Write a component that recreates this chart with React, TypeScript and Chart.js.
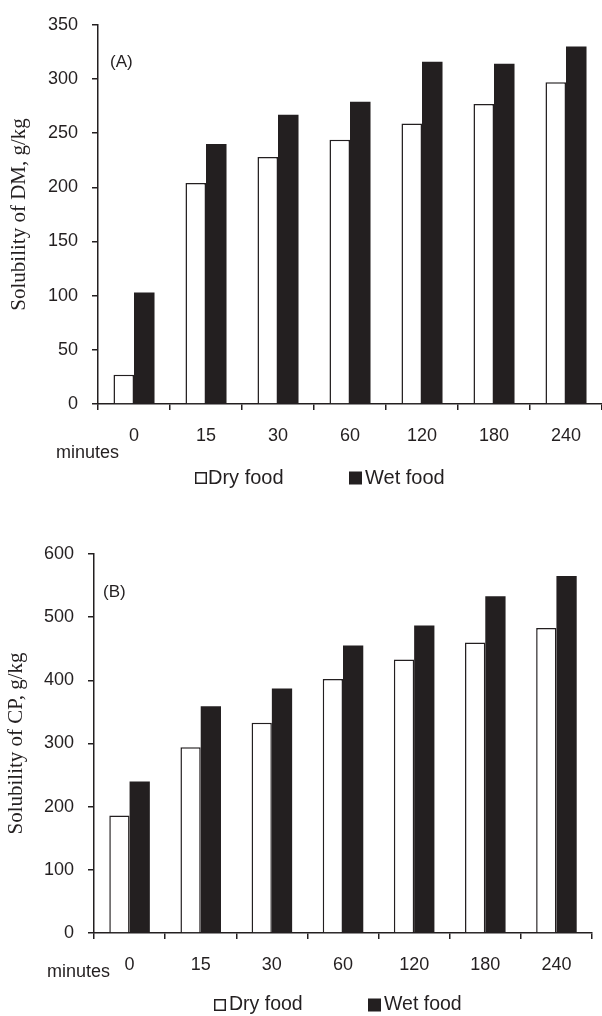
import React, { useEffect, useRef } from "react";
import { Chart, registerables } from "chart.js";

Chart.register(...registerables);

// ---- Data ----
const minuteLabels = ["0", "15", "30", "60", "120", "180", "240"];
const seriesNames = ["Dry food", "Wet food"];

const dmDry = [27, 204, 228, 244, 259, 277, 297];
const dmWet = [103, 240, 267, 279, 316, 314, 330];

const cpDry = [186, 294, 333, 402, 433, 460, 483];
const cpWet = [240, 359, 387, 455, 487, 533, 565];

const dmAxis = { max: 350, step: 50 };
const cpAxis = { max: 600, step: 100 };

const INK = "#231f20";
const SANS = '"Liberation Sans", Arial, sans-serif';
const SERIF = '"Liberation Serif", "Times New Roman", serif';

const extrasPlugin = {
  id: "extras",
  afterDraw(chart: any, _args: any, opts: any) {
    const ctx = chart.ctx;
    ctx.save();
    ctx.fillStyle = INK;
    ctx.textAlign = "left";
    ctx.textBaseline = "middle";
    ctx.font = `17px ${SANS}`;
    ctx.fillText(opts.panel, opts.panelX, opts.panelY);
    ctx.font = `18px ${SANS}`;
    ctx.fillText("minutes", opts.minutesX, opts.minutesY);
    ctx.font = `${opts.legendFont}px ${SANS}`;
    const ds = chart.data.datasets;
    opts.legend.forEach((item: any, i: number) => {
      const d = ds[i];
      const s = item.size;
      const y0 = opts.legendY - s / 2;
      if (i === 0) {
        ctx.fillStyle = "#ffffff";
        ctx.fillRect(item.boxX, y0, s, s);
        ctx.strokeStyle = INK;
        ctx.lineWidth = 1.5;
        ctx.strokeRect(item.boxX + 0.75, y0 + 0.75, s - 1.5, s - 1.5);
      } else {
        ctx.fillStyle = d.backgroundColor;
        ctx.fillRect(item.boxX, y0, s, s);
      }
      ctx.fillStyle = INK;
      ctx.fillText(d.label, item.textX, opts.legendY);
    });
    ctx.restore();
  },
};

function makeConfig(p: any): any {
  return {
    type: "bar",
    data: {
      labels: minuteLabels,
      datasets: [
        {
          label: seriesNames[0],
          data: p.dry,
          backgroundColor: "#ffffff",
          borderColor: INK,
          borderWidth: 1.5,
          categoryPercentage: 0.57,
          barPercentage: 1,
        },
        {
          label: seriesNames[1],
          data: p.wet,
          backgroundColor: INK,
          borderColor: INK,
          borderWidth: 0,
          categoryPercentage: 0.57,
          barPercentage: 1,
        },
      ],
    },
    options: {
      responsive: false,
      animation: false,
      events: [],
      layout: { padding: { top: p.padTop, right: p.padRight, left: 0, bottom: 0 } },
      plugins: {
        legend: { display: false },
        tooltip: { enabled: false },
        extras: p.extras,
      },
      scales: {
        x: {
          type: "category",
          offset: true,
          grid: {
            display: true,
            offset: true,
            drawOnChartArea: false,
            drawTicks: true,
            tickLength: 6,
            color: INK,
            lineWidth: 1.5,
          },
          border: { display: true, color: INK, width: 1.5 },
          ticks: {
            color: INK,
            font: { family: SANS, size: 18 },
            padding: 15,
            maxRotation: 0,
            autoSkip: false,
          },
          afterFit: (s: any) => {
            s.height = p.xHeight;
          },
        },
        y: {
          min: 0,
          max: p.max,
          ticks: {
            stepSize: p.step,
            color: INK,
            font: { family: SANS, size: 18 },
            padding: 14,
          },
          grid: {
            display: true,
            drawOnChartArea: false,
            drawTicks: true,
            tickLength: 6,
            color: INK,
            lineWidth: 1.5,
          },
          border: { display: true, color: INK, width: 1.5 },
          title: {
            display: true,
            text: p.title,
            color: INK,
            font: { family: SERIF, size: 21 },
            padding: { top: p.titlePad, bottom: 0 },
          },
          afterFit: (s: any) => {
            s.width = p.yWidth;
          },
        },
      },
    },
    plugins: [extrasPlugin],
  };
}

function Panel({ config, top, height }: { config: any; top: number; height: number }) {
  const ref = useRef<HTMLCanvasElement>(null);
  useEffect(() => {
    if (!ref.current) return;
    const chart = new Chart(ref.current, config);
    return () => chart.destroy();
  }, []);
  return (
    <canvas
      ref={ref}
      width={602}
      height={height}
      style={{ position: "absolute", left: 0, top, width: 602, height, display: "block" }}
    />
  );
}

export default function App() {
  const topConfig = makeConfig({
    dry: dmDry,
    wet: dmWet,
    max: dmAxis.max,
    step: dmAxis.step,
    title: "Solubility of DM, g/kg",
    titlePad: 7,
    padTop: 20,
    padRight: 0,
    xHeight: 96,
    yWidth: 98,
    extras: {
      panel: "(A)",
      panelX: 110,
      panelY: 62,
      minutesX: 56,
      minutesY: 453,
      legendY: 478,
      legendFont: 20,
      legend: [
        { boxX: 195, textX: 208, size: 12 },
        { boxX: 349, textX: 365, size: 13 },
      ],
    },
  });
  const bottomConfig = makeConfig({
    dry: cpDry,
    wet: cpWet,
    max: cpAxis.max,
    step: cpAxis.step,
    title: "Solubility of CP, g/kg",
    titlePad: 4,
    padTop: 54,
    padRight: 10,
    xHeight: 83,
    yWidth: 94,
    extras: {
      panel: "(B)",
      panelX: 103,
      panelY: 92,
      minutesX: 47,
      minutesY: 472,
      legendY: 505,
      legendFont: 19.5,
      legend: [
        { boxX: 214, textX: 229, size: 12 },
        { boxX: 368, textX: 384, size: 13 },
      ],
    },
  });
  return (
    <div style={{ position: "absolute", left: 0, top: 0, width: 602, height: 1016, background: "#ffffff" }}>
      <Panel config={topConfig} top={0} height={500} />
      <Panel config={bottomConfig} top={500} height={516} />
    </div>
  );
}
